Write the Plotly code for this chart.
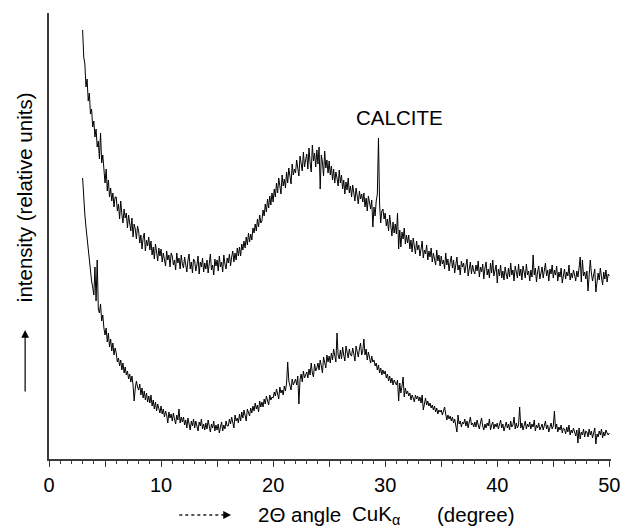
import numpy as np
import plotly.graph_objects as go

# 2-theta angle grid (degrees), 0.1 deg steps from 3.0 to 50.0
theta_start = 3.0
theta_end = 50.0

# Upper pattern (with calcite reflection near 29.4 deg), relative intensity
upper = [
    429, 402, 395, 372, 380, 358, 366, 345, 350, 332,   # 3
    338, 322, 330, 312, 318, 300, 326, 296, 304, 288,   # 4
    276, 290, 268, 279, 262, 271, 258, 266, 252, 262,   # 5
    262, 248, 255, 240, 258, 245, 236, 250, 241, 246,   # 6
    231, 244, 236, 228, 241, 222, 235, 230, 220, 233,   # 7
    228, 216, 224, 210, 221, 226, 208, 219, 213, 222,   # 8
    209, 218, 204, 212, 200, 215, 207, 198, 211, 203,   # 9
    210, 197, 206, 201, 193, 208, 199, 204, 192, 206,   # 10
    203, 194, 199, 189, 206, 196, 201, 190, 204, 195,   # 11
    191, 202, 196, 187, 199, 205, 190, 197, 186, 200,   # 12
    198, 188, 194, 203, 185, 197, 192, 201, 187, 196,   # 13
    190, 199, 186, 196, 205, 189, 194, 184, 200, 193,   # 14
    199, 188, 203, 192, 197, 187, 204, 195, 190, 201,   # 15
    196, 205, 193, 202, 208, 197, 206, 199, 211, 203,   # 16
    212, 203, 215, 209, 218, 211, 222, 214, 226, 217,   # 17
    225, 219, 231, 226, 235, 228, 240, 232, 244, 236,   # 18
    238, 249, 243, 255, 247, 260, 251, 263, 254, 266,   # 19
    257, 270, 262, 276, 266, 281, 270, 265, 284, 273,   # 20
    280, 271, 287, 276, 291, 282, 275, 295, 284, 290,   # 21
    286, 299, 291, 283, 303, 294, 288, 307, 292, 299,   # 22
    305, 290, 311, 296, 287, 314, 298, 306, 292, 309,   # 23
    295, 312, 270, 304, 297, 283, 308, 291, 299, 286,   # 24
    298, 284, 293, 279, 290, 276, 287, 281, 273, 289,   # 25
    276, 284, 270, 279, 265, 277, 269, 281, 266, 273,   # 26
    262, 274, 266, 258, 271, 263, 255, 268, 260, 265,   # 27
    257, 266, 252, 261, 248, 263, 254, 250, 259, 232,   # 28
    252, 243, 258, 265, 321, 255, 236, 248, 250, 240,   # 29
    246, 233, 240, 228, 244, 230, 223, 237, 226, 235,   # 30
    225, 246, 210, 229, 212, 227, 220, 231, 215, 224,   # 31
    216, 224, 210, 219, 207, 221, 212, 205, 218, 209,   # 32
    214, 203, 210, 218, 201, 209, 205, 214, 199, 208,   # 33
    202, 211, 197, 206, 200, 194, 209, 198, 204, 193,   # 34
    203, 195, 199, 190, 206, 194, 200, 188, 197, 203,   # 35
    191, 199, 186, 195, 202, 189, 194, 184, 198, 192,   # 36
    196, 186, 193, 200, 183, 191, 197, 185, 194, 188,   # 37
    185, 194, 188, 198, 182, 192, 187, 195, 180, 191,   # 38
    197, 184, 190, 181, 196, 186, 199, 183, 189, 194,   # 39
    176, 190, 183, 194, 181, 188, 179, 192, 185, 180,   # 40
    191, 182, 196, 184, 189, 178, 193, 186, 181, 195,   # 41
    183, 190, 179, 193, 186, 181, 195, 184, 188, 178,   # 42
    189, 182, 204, 184, 191, 177, 187, 193, 180, 186,   # 43
    192, 181, 188, 196, 183, 189, 178, 190, 185, 194,   # 44
    181, 189, 184, 193, 178, 187, 182, 191, 176, 186,   # 45
    190, 180, 187, 183, 194, 179, 186, 181, 189, 184,   # 46
    178, 188, 182, 191, 202, 177, 199, 183, 187, 180,   # 47
    188, 168, 183, 199, 186, 178, 184, 190, 167, 181,   # 48
    186, 179, 191, 182, 174, 187, 180, 189, 177, 185,   # 49
    183,                                                # 50
]

# Lower pattern, relative intensity
lower = [
    281, 258, 244, 232, 220, 209, 197, 189, 178, 172,   # 3
    164, 192, 158, 199, 150, 146, 155, 138, 144, 131,   # 4
    124, 131, 117, 126, 112, 120, 108, 116, 104, 111,   # 5
    106, 97, 101, 93, 99, 89, 96, 86, 92, 84,           # 6
    88, 80, 85, 77, 83, 74, 58, 71, 78, 72,             # 7
    69, 75, 64, 71, 61, 68, 59, 66, 57, 63,             # 8
    56, 64, 53, 59, 50, 57, 48, 55, 51, 46,             # 9
    53, 45, 50, 42, 48, 44, 36, 47, 41, 45,             # 10
    38, 46, 40, 35, 44, 39, 50, 36, 42, 37,             # 11
    42, 34, 39, 31, 41, 36, 29, 38, 33, 40,             # 12
    31, 38, 34, 28, 37, 33, 40, 30, 35, 29,             # 13
    36, 30, 39, 33, 27, 35, 31, 38, 28, 34,             # 14
    29, 35, 26, 32, 37, 28, 34, 30, 38, 33,             # 15
    33, 40, 35, 42, 37, 31, 44, 38, 41, 36,             # 16
    45, 38, 47, 41, 49, 44, 38, 50, 46, 43,             # 17
    51, 46, 53, 48, 56, 50, 54, 47, 58, 52,             # 18
    57, 52, 60, 55, 63, 58, 54, 64, 59, 62,             # 19
    61, 67, 63, 70, 65, 60, 72, 66, 69, 64,             # 20
    73, 68, 76, 97, 78, 73, 69, 80, 74, 77,             # 21
    80, 74, 83, 55, 79, 85, 77, 88, 81, 84,             # 22
    87, 81, 90, 84, 96, 86, 82, 95, 88, 91,             # 23
    96, 89, 99, 93, 86, 102, 95, 91, 104, 97,           # 24
    103, 96, 106, 99, 110, 101, 97, 126, 104, 100,      # 25
    109, 100, 112, 104, 98, 113, 106, 101, 110, 104,    # 26
    103, 111, 105, 98, 113, 107, 102, 110, 116, 104,    # 27
    108, 120, 104, 110, 99, 107, 101, 96, 103, 97,      # 28
    99, 93, 96, 89, 94, 86, 91, 84, 89, 85,             # 29
    88, 81, 85, 78, 83, 76, 81, 74, 79, 77,             # 30
    74, 79, 58, 76, 66, 73, 82, 62, 71, 65,             # 31
    68, 63, 66, 59, 64, 61, 57, 64, 60, 63,             # 32
    58, 62, 56, 64, 49, 55, 61, 54, 58, 53,             # 33
    56, 51, 54, 49, 53, 47, 51, 45, 49, 47,             # 34
    49, 44, 47, 52, 45, 39, 44, 40, 43, 38,             # 35
    42, 36, 40, 34, 27, 44, 35, 38, 32, 37,             # 36
    35, 40, 33, 38, 31, 37, 42, 34, 36, 32,             # 37
    37, 32, 39, 34, 30, 36, 41, 33, 29, 35,             # 38
    31, 36, 33, 40, 29, 34, 37, 30, 35, 32,             # 39
    36, 30, 34, 39, 31, 35, 28, 33, 37, 31,             # 40
    35, 29, 38, 32, 34, 42, 30, 36, 31, 34,             # 41
    52, 31, 36, 29, 34, 38, 30, 35, 32, 37,             # 42
    30, 35, 32, 39, 28, 34, 31, 36, 29, 33,             # 43
    35, 29, 33, 38, 30, 34, 27, 32, 36, 30,             # 44
    33, 48, 30, 35, 27, 32, 29, 34, 26, 31,             # 45
    30, 25, 32, 27, 34, 24, 29, 26, 31, 27,             # 46
    23, 29, 16, 31, 20, 27, 24, 30, 22, 28,             # 47
    27, 22, 30, 24, 28, 21, 26, 31, 15, 25,             # 48
    22, 28, 24, 30, 21, 27, 23, 29, 26, 24,             # 49
    26,                                                 # 50
]

two_theta = np.linspace(theta_start, theta_end, len(upper))
two_theta_lower = np.linspace(theta_start, theta_end, len(lower))

x_tick_vals = [0, 5, 10, 15, 20, 25, 30, 35, 40, 45, 50]
x_tick_text = ["0", "", "10", "", "20", "", "30", "", "40", "", "50"]

peak_label = "CALCITE"
peak_label_pos = (31.25, 342)

FONT = "Liberation Sans, Arial, sans-serif"
AX = "#3a3a3a"
FS = 20.5

fig = go.Figure()
fig.add_trace(go.Scatter(x=two_theta, y=upper, mode="lines",
                         line=dict(color="#000000", width=1.0), showlegend=False))
fig.add_trace(go.Scatter(x=two_theta_lower, y=lower, mode="lines",
                         line=dict(color="#000000", width=1.0), showlegend=False))

# page body has an 8px margin: figure is sized/offset to fit the 633x527 window
fig.update_layout(
    width=617, height=519,
    margin=dict(l=41, r=11, t=5, b=68),
    paper_bgcolor="white", plot_bgcolor="white",
    font=dict(family=FONT, size=20, color="black"),
    xaxis=dict(
        range=[0, 50.15], showgrid=False, zeroline=False,
        showline=True, linecolor=AX, linewidth=1.5,
        tickmode="array", tickvals=x_tick_vals, ticktext=x_tick_text,
        ticks="outside", ticklen=6, tickwidth=1.2, tickcolor=AX,
        ticklabelstandoff=1,
        tickfont=dict(family=FONT, size=20, color="black"),
        minor=dict(dtick=1, tick0=0, ticks="outside", ticklen=3,
                   tickwidth=1, tickcolor=AX, showgrid=False),
    ),
    yaxis=dict(
        range=[0, 446], showgrid=False, zeroline=False,
        showline=True, linecolor=AX, linewidth=1.5,
        showticklabels=False, ticks="",
    ),
)

def px_x(px):
    return (px - 49) / 565.0

def px_y(py):
    return (459 - py) / 446.0

title_font = dict(family=FONT, size=FS, color="black")
annotations = [
    dict(x=peak_label_pos[0], y=peak_label_pos[1], xref="x", yref="y",
         text=peak_label, showarrow=False, font=title_font),
    dict(x=px_x(24), y=px_y(197), xref="paper", yref="paper",
         xanchor="center", yanchor="middle",
         text="intensity (relative units)", textangle=-90, showarrow=False,
         font=title_font),
    dict(x=px_x(25), y=px_y(330), xref="paper", yref="paper", text="",
         showarrow=True, ax=0, ay=63, arrowhead=2, arrowsize=1.3,
         arrowwidth=1.2, arrowcolor="black"),
    dict(x=px_x(232), y=px_y(515), xref="paper", yref="paper", text="",
         showarrow=True, ax=-10, ay=0, arrowhead=2, arrowsize=1.3,
         arrowwidth=1.2, arrowcolor="black"),
    dict(x=px_x(257), y=px_y(515), xref="paper", yref="paper",
         xanchor="left", yanchor="middle",
         text="2\u0398 angle", showarrow=False, font=title_font),
    dict(x=px_x(352), y=px_y(515), xref="paper", yref="paper",
         xanchor="left", yanchor="middle",
         text="CuK<sub>\u03b1</sub>", showarrow=False, font=title_font),
    dict(x=px_x(437), y=px_y(515), xref="paper", yref="paper",
         xanchor="left", yanchor="middle",
         text="(degree)", showarrow=False, font=title_font),
]
fig.update_layout(annotations=annotations)

fig.add_shape(type="line", xref="paper", yref="paper",
              x0=px_x(180), x1=px_x(224), y0=px_y(515), y1=px_y(515),
              line=dict(color="#222222", width=1.5, dash="dot"))

fig.write_html("out.html")
